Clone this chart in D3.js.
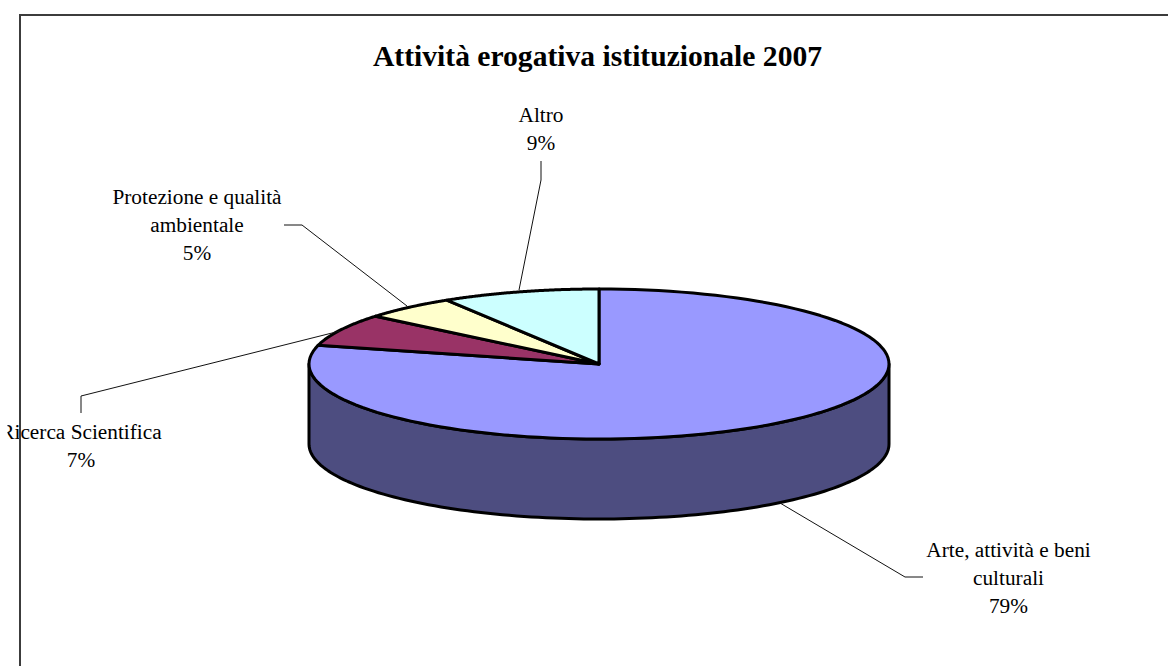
<!DOCTYPE html>
<html><head><meta charset="utf-8">
<script src="https://cdnjs.cloudflare.com/ajax/libs/d3/7.8.5/d3.min.js"></script>
<style>html,body{margin:0;padding:0;background:#fff}svg{display:block}text{font-family:"Liberation Serif",serif;fill:#000}</style>
</head><body><svg id="c" width="1168" height="666"></svg>
<script>
const categories = ["Arte, attività e beni culturali","Ricerca Scientifica","Protezione e qualità ambientale","Altro"];
const values = [79.0,7.0,5.2,8.8];
const percentLabels = ["79%","7%","5%","9%"];
const colors = ["#9999ff","#993366","#ffffcc","#ccffff"];
const sideColor = "#4d4d80";
const titleText = "Attività erogativa istituzionale 2007";
const labelLines = [["Arte, attività e beni","culturali","79%"],["Ricerca Scientifica","7%"],["Protezione e qualità","ambientale","5%"],["Altro","9%"]];
const labelAnchor = [[1008.5,0],[81,0],[197,0],[541,0]];
const labelTop = [557,439,204,122];
const leaders = [
 [[780,503],[905,577],[923,577]],
 [[340,331],[81,396],[81,413]],
 [[407,306],[302,225],[284,225]],
 [[519,290],[541,180],[541,161]]
];

const svg = d3.select("#c");
const defs = svg.append("defs");
defs.append("clipPath").attr("id","clipL").append("rect").attr("x",7.5).attr("y",0).attr("width",1160).attr("height",666);

const cx=599, cy=364, rx=290, ry=75, depth=80;
const px = a => cx + rx*Math.sin(a);
const py = a => cy - ry*Math.cos(a);
const pie = d3.pie().sort(null).startAngle(0).endAngle(2*Math.PI)(values);
const line = d3.line();
const arcPts = (a0,a1) => d3.range(0,121).map(i=>{const a=a0+(a1-a0)*i/120;return [px(a),py(a)];});

// side wall
const front = arcPts(Math.PI/2,3*Math.PI/2);
const wall = front.concat(front.slice().reverse().map(p=>[p[0],p[1]+depth]));
svg.append("path").attr("d",line(wall)+"Z").attr("fill",sideColor).attr("stroke","#000").attr("stroke-width",3).attr("stroke-linejoin","round");

// top slices
svg.selectAll("path.s").data(pie).join("path").attr("class","s")
 .attr("d",d=>line([[cx,cy]].concat(arcPts(d.startAngle,d.endAngle)))+"Z")
 .attr("fill",(d,i)=>colors[i]).attr("stroke","#000").attr("stroke-width",3).attr("stroke-linejoin","round");

// leaders
svg.selectAll("path.l").data(leaders).join("path").attr("class","l")
 .attr("d",d=>line(d)).attr("fill","none").attr("stroke","#111").attr("stroke-width",1);

// labels
const fs=21.3, lh=28;
labelLines.forEach((ls,i)=>{
  const g=svg.append("g").attr("clip-path","url(#clipL)");
  ls.forEach((t,j)=>g.append("text").attr("x",labelAnchor[i][0]).attr("y",labelTop[i]+j*lh)
    .attr("text-anchor","middle").attr("font-size",fs).text(t));
});
svg.append("text").attr("x",597.5).attr("y",66).attr("text-anchor","middle").attr("font-size",29.6).attr("font-weight","bold").text(titleText);

// chart frame (top and left edges)
svg.append("path").attr("d",line([[1168,15],[20,15],[20,666]])).attr("fill","none").attr("stroke","#3c3c3c").attr("stroke-width",2);
</script></body></html>
